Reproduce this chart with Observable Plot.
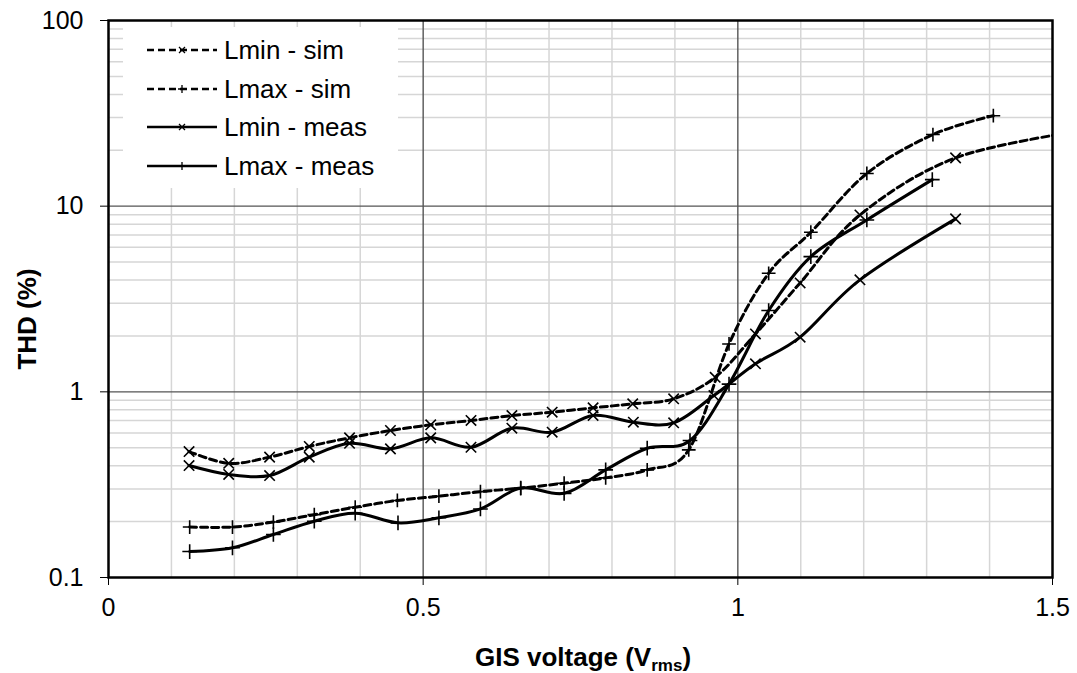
<!DOCTYPE html>
<html><head><meta charset="utf-8">
<script src="https://cdn.jsdelivr.net/npm/d3@7"></script>
<script src="https://cdn.jsdelivr.net/npm/@observablehq/plot@0.6"></script>
<style>
html,body{margin:0;padding:0;background:#fff;}
#wrap{position:relative;width:1077px;height:673px;font-family:"Liberation Sans",Arial,sans-serif;color:#000;}
#legend{position:absolute;left:123px;top:27px;width:275px;height:161px;background:#fff;}
#ytitle{position:absolute;left:27px;top:319px;transform:translate(-50%,-50%) rotate(-90deg);font-weight:bold;font-size:26px;white-space:nowrap;}
#xtitle{position:absolute;left:583px;top:657px;transform:translate(-50%,-50%);font-weight:bold;font-size:26px;white-space:nowrap;}
#xtitle sub{font-size:17px;vertical-align:-5px;line-height:0;}
</style></head>
<body><div id="wrap"></div>
<script>
// ---- data ----
const lminSimV   = [0.128, 0.191, 0.256, 0.319, 0.383, 0.448, 0.512, 0.576, 0.641, 0.705, 0.770, 0.833, 0.898, 0.964, 1.028, 1.099, 1.194, 1.346, 1.55];
const lminSimTHD = [0.477, 0.412, 0.445, 0.508, 0.565, 0.619, 0.664, 0.701, 0.745, 0.777, 0.820, 0.862, 0.917, 1.198, 2.05, 3.86, 8.97, 18.2, 25.6];

const lmaxSimV   = [0.129, 0.197, 0.262, 0.327, 0.392, 0.459, 0.525, 0.591, 0.655, 0.724, 0.790, 0.856, 0.922, 0.986, 1.049, 1.116, 1.205, 1.310, 1.406];
const lmaxSimTHD = [0.187, 0.187, 0.199, 0.218, 0.239, 0.260, 0.274, 0.290, 0.303, 0.322, 0.344, 0.380, 0.487, 1.81, 4.35, 7.24, 15.0, 24.3, 30.7];

const lminMeasV   = [0.128, 0.191, 0.256, 0.319, 0.383, 0.448, 0.512, 0.576, 0.641, 0.705, 0.770, 0.834, 0.898, 0.962, 1.028, 1.099, 1.194, 1.346];
const lminMeasTHD = [0.401, 0.359, 0.354, 0.445, 0.528, 0.493, 0.565, 0.503, 0.637, 0.606, 0.746, 0.686, 0.681, 0.955, 1.415, 1.97, 4.01, 8.54];

const lmaxMeasV   = [0.129, 0.197, 0.262, 0.327, 0.392, 0.460, 0.525, 0.591, 0.655, 0.724, 0.790, 0.856, 0.924, 0.986, 1.049, 1.116, 1.205, 1.309];
const lmaxMeasTHD = [0.138, 0.1445, 0.1705, 0.201, 0.222, 0.197, 0.2097, 0.234, 0.303, 0.284, 0.380, 0.497, 0.547, 1.10, 2.74, 5.35, 8.43, 13.9];

const seriesNames = ["Lmin - sim", "Lmax - sim", "Lmin - meas", "Lmax - meas"];
const xTicks = [0, 0.5, 1, 1.5];
const xTickLabels = ["0", "0.5", "1", "1.5"];
const yTicks = [0.1, 1, 10, 100];
const yTickLabels = ["0.1", "1", "10", "100"];
const xMinorGrid = [0.1,0.2,0.3,0.4,0.6,0.7,0.8,0.9,1.1,1.2,1.3,1.4];
const xMajorGrid = [0.5, 1];
const yMajorGrid = [1, 10];
const yMinorGrid = [0.1,1,10].flatMap(d => [2,3,4,5,6,7,8,9].map(k => k*d));

const toRows = (V, T) => V.map((v, i) => ({v, thd: T[i]}));
const lminSim = toRows(lminSimV, lminSimTHD);
const lmaxSim = toRows(lmaxSimV, lmaxSimTHD);
const lminMeas = toRows(lminMeasV, lminMeasTHD);
const lmaxMeas = toRows(lmaxMeasV, lmaxMeasTHD);

const lineOpts = {x: "v", y: "thd", curve: "cardinal", tension: 0, stroke: "#000", strokeWidth: 3, clip: true};
const dash = "7,4";
const timesOpts = {x: "v", y: "thd", symbol: "times", r: 4.8, stroke: "#000", strokeWidth: 1.6, fill: "none", clip: true};
const plusOpts = {x: "v", y: "thd", symbol: "plus", r: 4.8, stroke: "#000", strokeWidth: 1.6, fill: "none", clip: true};

const chart = Plot.plot({
  width: 1077, height: 673,
  marginLeft: 108, marginRight: 25, marginTop: 20, marginBottom: 96,
  style: {fontFamily: '"Liberation Sans", Arial, sans-serif', fontSize: "25px", background: "#fff", color: "#000"},
  x: {domain: [0, 1.5]},
  y: {type: "log", domain: [0.1, 100]},
  marks: [
    Plot.ruleX(xMinorGrid, {stroke: "#d6d6d6", strokeWidth: 1.5}),
    Plot.ruleY(yMinorGrid, {stroke: "#d6d6d6", strokeWidth: 1.5}),
    Plot.ruleX(xMajorGrid, {stroke: "#555", strokeWidth: 1.4}),
    Plot.ruleY(yMajorGrid, {stroke: "#555", strokeWidth: 1.4}),
    Plot.axisX(xTicks, {tickSize: 8, tickPadding: 13, label: null, fontSize: 25, tickFormat: (d) => xTickLabels[xTicks.indexOf(d)]}),
    Plot.axisY(yTicks, {tickSize: 8, tickPadding: 17, label: null, fontSize: 25, tickFormat: (d) => yTickLabels[yTicks.indexOf(d)]}),
    Plot.line(lminSim, {...lineOpts, strokeDasharray: dash}),
    Plot.line(lmaxSim, {...lineOpts, strokeDasharray: dash}),
    Plot.line(lminMeas, lineOpts),
    Plot.line(lmaxMeas, lineOpts),
    Plot.dot(lminSim, timesOpts),
    Plot.dot(lmaxSim, {...plusOpts, r: 4.5}),
    Plot.dot(lminMeas, timesOpts),
    Plot.dot(lmaxMeas, plusOpts),
    Plot.frame({stroke: "#000", strokeWidth: 2.5})
  ]
});

const wrap = document.getElementById("wrap");
wrap.appendChild(chart);

// legend
const legendStyles = [
  {dash: "7,4", sym: "times"},
  {dash: "7,4", sym: "plus"},
  {dash: null, sym: "times"},
  {dash: null, sym: "plus"}
];
const rowY = [23, 62, 100, 139];
let svg = `<svg width="275" height="161" xmlns="http://www.w3.org/2000/svg">`;
seriesNames.forEach((name, i) => {
  const s = legendStyles[i], cy = rowY[i], cx = 59;
  svg += `<line x1="24" x2="94" y1="${cy}" y2="${cy}" stroke="#000" stroke-width="2.6" ${s.dash ? `stroke-dasharray="${s.dash}"` : ""}/>`;
  if (s.sym === "times") svg += `<path d="M${cx-3},${cy-3}L${cx+3},${cy+3}M${cx-3},${cy+3}L${cx+3},${cy-3}" stroke="#000" stroke-width="1.3" fill="none"/>`;
  else svg += `<path d="M${cx-4},${cy}L${cx+4},${cy}M${cx},${cy-4}L${cx},${cy+4}" stroke="#000" stroke-width="1.3" fill="none"/>`;
  svg += `<text x="101" y="${cy}" dy="0.35em" font-size="26" font-family="Liberation Sans, Arial, sans-serif">${name}</text>`;
});
svg += `</svg>`;
const legend = document.createElement("div");
legend.id = "legend";
legend.innerHTML = svg;
wrap.appendChild(legend);

const yt = document.createElement("div");
yt.id = "ytitle"; yt.textContent = "THD (%)";
wrap.appendChild(yt);
const xt = document.createElement("div");
xt.id = "xtitle"; xt.innerHTML = "GIS voltage (V<sub>rms</sub>)";
wrap.appendChild(xt);
</script>
</body></html>
